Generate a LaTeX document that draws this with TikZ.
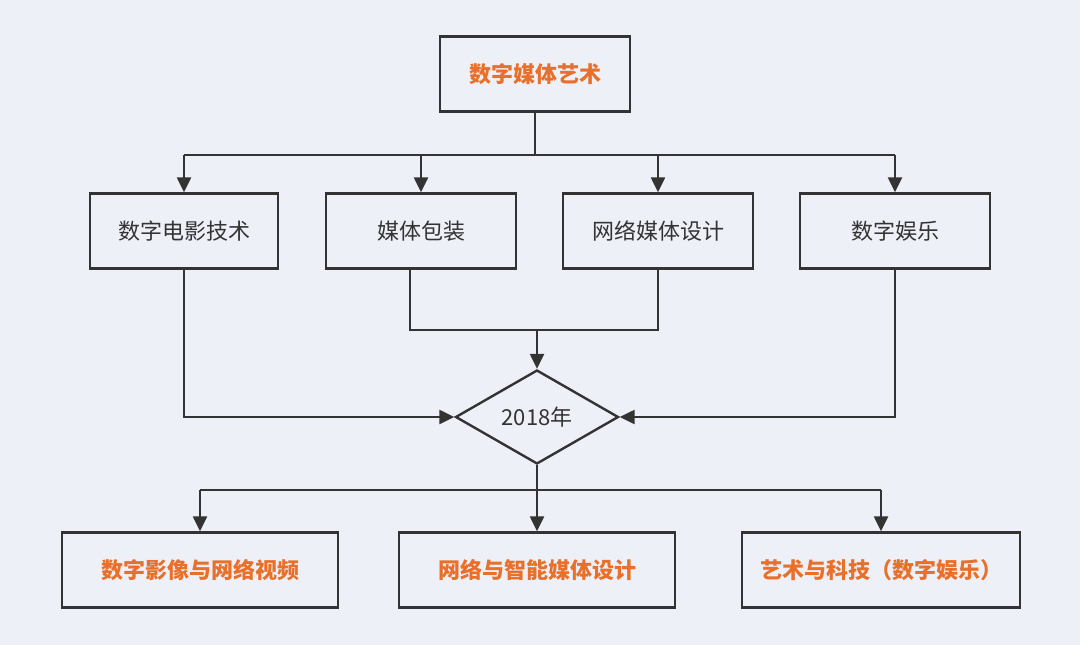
\documentclass[tikz,border=0pt]{standalone}
\usepackage{fontspec}
\setmainfont{Noto Sans CJK SC}
\usetikzlibrary{shapes.geometric,arrows.meta}
\definecolor{bg}{HTML}{EEF0F8}
\definecolor{ln}{HTML}{333333}
\definecolor{org}{HTML}{E8702A}
\begin{document}
\begin{tikzpicture}[x=1pt,y=-1pt,
  box/.style={draw=ln,line width=2.4pt,fill=bg,minimum height=75pt,inner sep=0pt,font=\fontsize{22}{26}\selectfont,text=ln},
  obox/.style={box,text=org,font=\fontsize{22}{26}\selectfont\bfseries},
  con/.style={draw=ln,line width=2.4pt},
  arr/.style={con,-{Triangle[length=15pt,width=14pt]}}]
\fill[bg] (0,0) rectangle (1080,645);
\useasboundingbox (0,0) rectangle (1080,645);
\node[obox,minimum width=190pt] (top) at (535,74) {数字媒体艺术};
\node[box,minimum width=188pt] (a) at (184,231) {数字电影技术};
\node[box,minimum width=190pt] (b) at (421,231) {媒体包装};
\node[box,minimum width=190pt] (c) at (658,231) {网络媒体设计};
\node[box,minimum width=190pt] (d) at (895,231) {数字娱乐};
\node[draw=ln,line width=2.4pt,fill=bg,diamond,minimum width=163pt,minimum height=94pt,inner sep=0pt,font=\fontsize{22}{26}\selectfont,text=ln] (m) at (537,417) {2018年};
\node[obox,minimum width=276pt] (e) at (200,570) {数字影像与网络视频};
\node[obox,minimum width=276pt] (f) at (537,570) {网络与智能媒体设计};
\node[obox,minimum width=278pt] (g) at (881,570) {艺术与科技（数字娱乐）};
\coordinate (t1) at (535,155);
\draw[con] (top.south) -- (t1);
\draw[con] (184,155) -- (895,155);
\foreach \n/\x in {a/184,b/421,c/658,d/895} \draw[arr] (\x,155) -- (\n.north);
\draw[arr] (a.south) |- (m.west);
\draw[arr] (d.south) |- (m.east);
\draw[con] (410,268) |- (658,330) -- (658,268);
\draw[arr] (537,330) -- (m.north);
\draw[con] (m.south) -- (537,490);
\draw[con] (200,490) -- (881,490);
\draw[arr] (200,490) -- (e.north);
\draw[arr] (537,490) -- (f.north);
\draw[arr] (881,490) -- (g.north);
\end{tikzpicture}
\end{document}
